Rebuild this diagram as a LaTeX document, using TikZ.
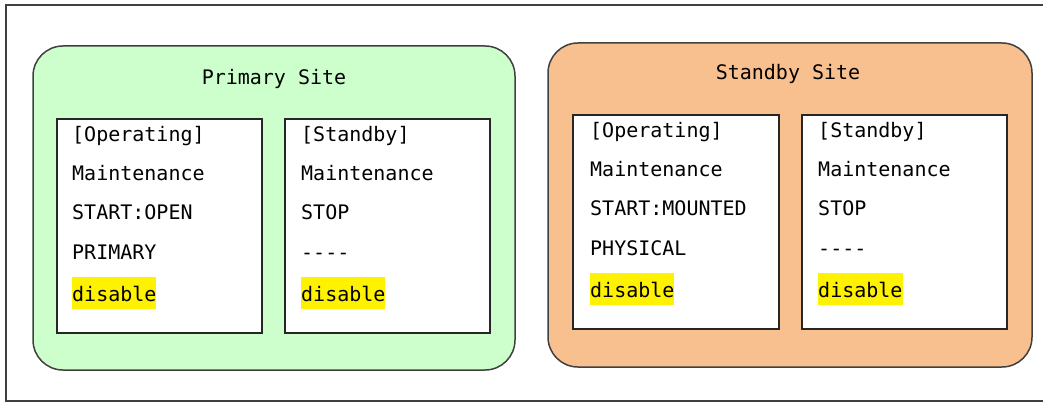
\documentclass[tikz,border=0pt]{standalone}
\usepackage{fontspec}
\setmonofont{DejaVu Sans Mono}
\usepackage{tikz}
\usetikzlibrary{positioning}
\definecolor{sitegreen}{HTML}{CCFFCC}
\definecolor{siteorange}{HTML}{F9C08F}
\definecolor{framegray}{HTML}{404040}

\begin{document}
\begin{tikzpicture}[x=1pt, y=-1pt,
    site/.style={draw=framegray, line width=1.5pt, rounded corners=30pt, minimum width=482pt, minimum height=324pt, inner sep=0pt},
    panel/.style={draw=black!85, line width=2pt, fill=white, minimum width=205pt, minimum height=214pt, inner sep=0pt},
    entry/.style={anchor=base west, inner sep=0pt, font=\ttfamily\fontsize{20}{24}\selectfont},
    flag/.style={entry, fill=yellow, inner ysep=8pt, text height=16pt, text depth=0pt}
]
    \useasboundingbox (0,0) rectangle (1043,403);

    % Outer frame (right side cut off)
    \draw[framegray, line width=2pt] (1050,5) -- (6,5) -- (6,401) -- (1050,401);

    % Sites
    \node[site, fill=sitegreen] (primary) at (274,208) {};
    \node[site, fill=siteorange, minimum width=484pt] (standby) at (790,205) {};
    \node[entry, anchor=base] (primarytitle) at (274,85) {Primary Site};
    \node[entry, anchor=base] (standbytitle) at (788,80) {Standby Site};

    % Panels
    \node[panel] (pop) at (159.5,226) {};
    \node[panel] (pstb) at (387.5,226) {};
    \node[panel, minimum width=206pt] (sop) at (676,222) {};
    \node[panel] (sstb) at (904.5,222) {};

    % Panel texts
    \foreach \t/\d [count=\r] in {{[Operating]}/24, Maintenance/63, START:OPEN/102, PRIMARY/141} {
        \node[entry, xshift=16pt, yshift=-\d pt] (pop\r) at (pop.north west) {\t};
    }
    \node[flag, xshift=16pt, yshift=-183pt] (pop5) at (pop.north west) {disable};

    \foreach \t/\d [count=\r] in {{[Standby]}/24, Maintenance/63, STOP/102, ----/141} {
        \node[entry, xshift=17pt, yshift=-\d pt] (pstb\r) at (pstb.north west) {\t};
    }
    \node[flag, xshift=17pt, yshift=-183pt] (pstb5) at (pstb.north west) {disable};

    \foreach \t/\d [count=\r] in {{[Operating]}/24, Maintenance/63, START:MOUNTED/102, PHYSICAL/141} {
        \node[entry, xshift=18pt, yshift=-\d pt] (sop\r) at (sop.north west) {\t};
    }
    \node[flag, xshift=18pt, yshift=-183pt] (sop5) at (sop.north west) {disable};

    \foreach \t/\d [count=\r] in {{[Standby]}/24, Maintenance/63, STOP/102, ----/141} {
        \node[entry, xshift=17pt, yshift=-\d pt] (sstb\r) at (sstb.north west) {\t};
    }
    \node[flag, xshift=17pt, yshift=-183pt] (sstb5) at (sstb.north west) {disable};
\end{tikzpicture}
\end{document}
